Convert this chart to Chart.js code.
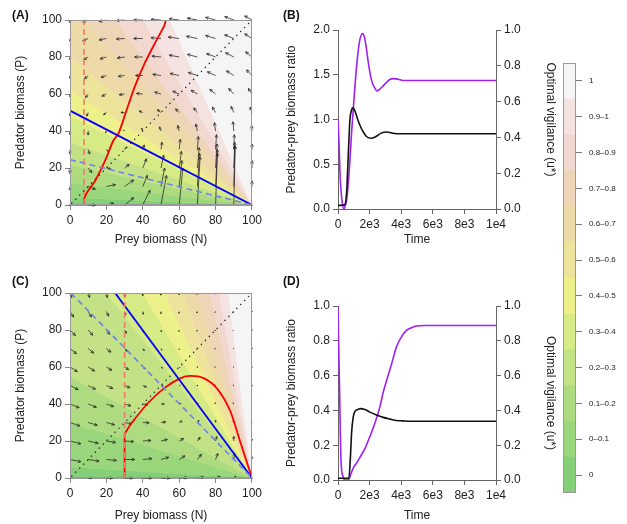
<!DOCTYPE html>
<html>
<head>
<meta charset="utf-8">
<script src="https://cdn.jsdelivr.net/npm/chart.js@4.4.0/dist/chart.umd.min.js"></script>
<style>
  body { margin: 0; background: #fff; width: 627px; height: 524px; position: relative; overflow: hidden;
         font-family: "Liberation Sans", Arial, sans-serif; }
  canvas { position: absolute; }
  .lab { position: absolute; font-weight: bold; font-size: 12px; line-height: 14px; color: #111; }
</style>
</head>
<body>
<canvas id="cA" width="265" height="260" style="left:0;top:0"></canvas>
<canvas id="cB" width="290" height="260" style="left:270px;top:0"></canvas>
<canvas id="cC" width="265" height="262" style="left:0;top:262px"></canvas>
<canvas id="cD" width="290" height="262" style="left:270px;top:262px"></canvas>
<canvas id="cBar" width="87" height="460" style="left:540px;top:50px"></canvas>
<div class="lab" style="left:12px;top:8px">(A)</div>
<div class="lab" style="left:283px;top:8px">(B)</div>
<div class="lab" style="left:12px;top:274px">(C)</div>
<div class="lab" style="left:283px;top:274px">(D)</div>
<script>
// ---- colour key ----
const cbColors = ['#84cf77', '#9ad67c', '#aedb80', '#c2e285', '#d6ea86', '#eef08a',
                  '#eee39a', '#eedaa8', '#eed5b8', '#f2d8d0', '#f5e3e1', '#f5f5f5'];
const cbLabels = ['0', '0–0.1', '0.1–0.2', '0.2–0.3', '0.3–0.4', '0.4–0.5',
                  '0.5–0.6', '0.6–0.7', '0.7–0.8', '0.8–0.9', '0.9–1', '1'];

// ---- phase planes: band boundaries (where each contour meets the left/top edge) ----
const edgesA = [[0, 4], [0, 12], [0, 22], [0, 34], [0, 48], [0, 62], [0, 80], [8, 100], [25, 100], [40, 100], [55, 100]];
const edgesC = [[0, 6], [0, 30], [0, 55], [20, 100], [40, 100], [52, 100], [62, 100], [70, 100], [77, 100], [82, 100], [87, 100]];

const gridN = [0, 10, 20, 30, 40, 50, 60, 70, 80, 90, 100];
const gridP = [0, 10, 20, 30, 40, 50, 60, 70, 80, 90, 100];

// arrow vectors [dN, dP], one row per gridP value (bottom row first)
const arrowsA = [
  [[0,0],[4,0],[4,1],[5,4],[4,8],[3,16],[2,20],[1.5,26],[1,28],[0.8,32],[0,0]],
  [[0,-2],[4,-1.5],[5,1],[5,3.5],[2.5,6],[2,10],[1.5,14],[1.2,18],[1,20],[0.6,22],[0,3]],
  [[0,-3],[2,-2.5],[2.5,-0.5],[2.5,2],[2,5],[1.5,7],[1.2,9],[1,11],[0.8,13],[0.5,14],[0,4]],
  [[0,-2.5],[0.8,-2.5],[1,-1],[0.8,1],[0.8,2.5],[0.6,4],[0.6,5.5],[0.5,7],[0.5,8],[0.3,8],[0,3]],
  [[0,-2],[0,-2.2],[-0.5,-1],[-0.5,0.5],[-0.6,1.5],[-0.8,2.2],[-0.8,3],[-0.8,3.8],[-0.6,4.5],[-0.4,5],[-0.2,3]],
  [[0,-1.8],[-0.8,-2],[-1.5,-1.2],[-2,0],[-2,0.8],[-2,1.5],[-2,2],[-2,2.5],[-1.8,3],[-1.5,3.3],[-1,3]],
  [[0,-1.5],[-1.5,-2],[-2.5,-1.2],[-3,-0.4],[-3.5,0.3],[-3.5,1],[-3.5,1.5],[-3.5,2],[-3.2,2.5],[-2.8,3],[-2,3]],
  [[0,-1.5],[-2,-1.8],[-3,-1],[-3.5,-0.5],[-4,0],[-4.5,0.6],[-5,1.1],[-5,1.6],[-4.5,2],[-4,2.5],[-3,3]],
  [[0,-1.5],[-2.5,-1.5],[-3.5,-1],[-4,-0.5],[-4.5,0],[-5,0.5],[-5.5,1],[-5.5,1.4],[-5,1.8],[-4.5,2.3],[-3.5,2.8]],
  [[0,-1.5],[-3,-1.2],[-4,-0.8],[-4.5,-0.3],[-5,0],[-5.5,0.4],[-6,0.8],[-6,1.2],[-5.5,1.6],[-5,2],[-4,2.5]],
  [[0,-1.5],[-3,-1],[-4,-0.8],[-4.5,-0.3],[-5,0],[-5.5,0.3],[-5.5,0.7],[-5.5,1],[-5.5,1.4],[-5,1.8],[-4,2.2]]
];
const arrowsC = [
  [[0.5,0],[2,0],[3.5,0],[4.5,0],[5,0],[5,0],[4.5,0.2],[3.5,0.5],[2.5,0.8],[1.2,1],[0,0]],
  [[6,-1.2],[6,-0.9],[5.5,-0.5],[5.5,0],[5,0.5],[4.2,1.2],[3.2,2],[2.2,2.8],[1.2,3.3],[0.5,3.5],[0,1.5]],
  [[6,-1.5],[5.5,-1.2],[5,-0.8],[5,-0.3],[4.5,0.3],[3.5,0.8],[2.5,1.4],[1.5,2],[0.6,2.4],[0,2.5],[0,1]],
  [[5.5,-1.8],[5,-1.5],[4.5,-1.2],[4,-0.7],[3.5,-0.2],[2.6,0.3],[1.6,0.8],[0.8,1.2],[0,1.3],[-0.3,1.2],[-0.2,0.5]],
  [[5,-2],[4.5,-1.8],[4,-1.4],[3.5,-1],[2.8,-0.5],[1.8,0],[1,0.4],[0.3,0.6],[-0.3,0.7],[-0.4,0.6],[-0.2,0.3]],
  [[4.5,-2.2],[4,-2],[3.5,-1.6],[3,-1.2],[2,-0.8],[1.2,-0.4],[0.5,0],[0,0.2],[-0.4,0.3],[-0.4,0.3],[-0.2,0.2]],
  [[4,-2.5],[3.5,-2.2],[3,-1.8],[2.2,-1.4],[1.4,-1],[0.8,-0.6],[0.3,-0.3],[-0.3,-0.1],[-0.5,0],[-0.4,0.1],[-0.2,0.1]],
  [[3.5,-2.8],[3,-2.5],[2.5,-2],[1.5,-1.6],[0.8,-1.2],[0.4,-0.9],[0,-0.6],[-0.4,-0.4],[-0.5,-0.2],[-0.4,-0.1],[-0.2,0]],
  [[3,-3],[2.5,-2.8],[1.8,-2.3],[1,-1.8],[0.5,-1.4],[0.2,-1],[-0.2,-0.8],[-0.4,-0.6],[-0.4,-0.4],[-0.3,-0.3],[-0.2,-0.2]],
  [[2,-3],[1.8,-3],[1.2,-2.5],[0.5,-2],[0.3,-1.5],[0,-1.2],[-0.2,-1],[-0.3,-0.8],[-0.4,-0.5],[-0.3,-0.4],[-0.2,-0.2]],
  [[1,-2.5],[0.8,-2.5],[0.5,-2.5],[0.2,-2],[0,-1.5],[0,-1.2],[0,-1],[-0.2,-0.8],[-0.3,-0.6],[-0.3,-0.5],[-0.2,-0.3]]
];

// isoclines in (A)
const redA_N = [7.7, 9.5, 14, 19.4, 23.9, 26.6, 31, 35.6, 41, 46.4, 51.8, 52.7];
const redA_P = [3.4, 7, 13.4, 24.2, 35, 38.6, 51, 64, 76.5, 87, 97, 100];
const redStemA_N = [7.7, 7.7], redStemA_P = [0, 3.4];
const redDashA_N = [7.7, 7.7], redDashA_P = [0, 100];
const blueA_N = [0, 100], blueA_P = [51, 0];
const blueDashA_N = [0, 100], blueDashA_P = [24.5, 0];

// isoclines in (C)
const redC_N = [30, 33.8, 42.8, 51.8, 60.8, 66.2, 73.4, 80.6, 87.8, 93.2, 100];
const redC_P = [23.8, 29.6, 40.4, 48.6, 54, 55.2, 54, 48.6, 36.8, 20.6, 0];
const redStemC_N = [30, 30], redStemC_P = [0, 23.8];
const redDashC_N = [30, 30], redDashC_P = [0, 100];
const blueC_N = [24.8, 100], blueC_P = [100, 0];
const blueDashC_N = [0.5, 100], blueDashC_P = [100, 0];

const diagN = [1, 100], diagP = [1, 100];

// ---- time series ----
const timeTicks = [0, 2000, 4000, 6000, 8000, 10000];
const timeLabels = ['0', '2e3', '4e3', '6e3', '8e3', '1e4'];

const tB_ratio = [0, 200, 440, 550, 650, 756, 850, 924, 1000, 1100, 1250, 1400, 1600, 1800, 2120, 2400, 2700, 3070, 3400, 3800, 4500, 6000, 10000];
const ratioB = [0.04, 0.04, 0.05, 0.2, 0.6, 1.0, 1.1, 1.13, 1.12, 1.08, 1.0, 0.93, 0.86, 0.81, 0.79, 0.81, 0.845, 0.86, 0.85, 0.84, 0.84, 0.84, 0.84];
const tB_u = [0, 60, 126, 250, 378, 460, 546, 700, 860, 1000, 1176, 1350, 1555, 1700, 1807, 1950, 2120, 2300, 2480, 2650, 2857, 3100, 3300, 3530, 3800, 4118, 4600, 6000, 10000];
const uB = [0.5, 0.38, 0.2, 0.05, 0.0, 0.02, 0.05, 0.2, 0.425, 0.6, 0.795, 0.93, 0.98, 0.95, 0.89, 0.8, 0.72, 0.68, 0.66, 0.67, 0.6875, 0.71, 0.725, 0.7285, 0.725, 0.7175, 0.7175, 0.7175, 0.7175];

const tD_ratio = [0, 300, 690, 780, 860, 960, 1070, 1250, 1390, 1700, 2020, 2400, 2860, 3300, 3700, 4100, 4540, 6000, 10000];
const ratioD = [0.01, 0.01, 0.01, 0.12, 0.27, 0.36, 0.395, 0.405, 0.41, 0.405, 0.39, 0.375, 0.36, 0.35, 0.342, 0.34, 0.338, 0.338, 0.338];
const tD_u = [0, 60, 120, 190, 336, 440, 650, 800, 970, 1200, 1390, 1700, 2020, 2350, 2650, 2850, 3070, 3400, 3700, 4000, 4330, 4650, 4960, 5500, 6000, 10000];
const uD = [1.0, 0.7, 0.42, 0.11, 0.015, 0.0, 0.0, 0.03, 0.07, 0.1, 0.13, 0.18, 0.25, 0.33, 0.42, 0.5, 0.57, 0.67, 0.765, 0.82, 0.86, 0.875, 0.885, 0.888, 0.888, 0.888];

// ---------------------------------------------------------------
Chart.defaults.font.family = "'Liberation Sans', Arial, sans-serif";
Chart.defaults.color = '#222';

const zip = (xs, ys) => xs.map((x, i) => ({ x: x, y: ys[i] }));

const sOf = p => (p[0] === 0 && p[1] < 100) ? p[1] : 100 + p[0];
const edgePt = s => s <= 100 ? [0, s] : [s - 100, 100];

function drawArrow(ctx, x0, y0, x1, y1) {
  const dx = x1 - x0, dy = y1 - y0, L = Math.hypot(dx, dy);
  if (L < 0.6) {
    ctx.fillRect(x0 - 0.6, y0 - 0.6, 1.2, 1.2);
    return;
  }
  ctx.beginPath(); ctx.moveTo(x0, y0); ctx.lineTo(x1, y1); ctx.stroke();
  const a = Math.atan2(dy, dx), h = Math.min(3.2, L * 0.6);
  ctx.beginPath();
  ctx.moveTo(x1 - h * Math.cos(a - 0.45), y1 - h * Math.sin(a - 0.45));
  ctx.lineTo(x1, y1);
  ctx.lineTo(x1 - h * Math.cos(a + 0.45), y1 - h * Math.sin(a + 0.45));
  ctx.stroke();
}

function phaseBg(edges, arrows) {
  return {
    id: 'phaseBg',
    beforeDatasetsDraw(chart) {
      const { ctx, chartArea: a, scales: { x, y } } = chart;
      ctx.save();
      ctx.beginPath(); ctx.rect(a.left, a.top, a.width, a.height); ctx.clip();
      const n = edges.length;
      for (let i = 0; i <= n; i++) {
        const s0 = i === 0 ? 0 : sOf(edges[i - 1]);
        const s1 = i === n ? 200 : sOf(edges[i]);
        const pts = [[100, 0], edgePt(s0)];
        if (s0 < 100 && s1 > 100) pts.push([0, 100]);
        pts.push(edgePt(s1));
        ctx.beginPath();
        pts.forEach((p, k) => {
          const px = x.getPixelForValue(p[0]), py = y.getPixelForValue(p[1]);
          if (k) ctx.lineTo(px, py); else ctx.moveTo(px, py);
        });
        ctx.closePath();
        ctx.fillStyle = cbColors[i];
        ctx.strokeStyle = cbColors[i];
        ctx.lineWidth = 0.6;
        ctx.fill(); ctx.stroke();
      }
      ctx.restore();
      ctx.save();
      ctx.strokeStyle = '#222'; ctx.fillStyle = '#222'; ctx.lineWidth = 0.75;
      gridP.forEach((P, r) => {
        gridN.forEach((N, c) => {
          const v = arrows[r][c];
          drawArrow(ctx, x.getPixelForValue(N), y.getPixelForValue(P),
                    x.getPixelForValue(N + v[0]), y.getPixelForValue(P + v[1]));
        });
      });
      ctx.restore();
    }
  };
}

const boxPlugin = {
  id: 'box',
  afterDatasetsDraw(chart) {
    const { ctx, chartArea: a } = chart;
    ctx.save();
    ctx.strokeStyle = '#9a9a9a'; ctx.lineWidth = 1;
    ctx.strokeRect(a.left + 0.5, a.top + 0.5, a.width - 1, a.height - 1);
    ctx.restore();
  }
};

function line(xs, ys, color, width, dash, tension, cap) {
  return {
    data: zip(xs, ys), showLine: true, borderColor: color, borderWidth: width,
    borderDash: dash || [], pointRadius: 0, tension: tension || 0,
    borderCapStyle: cap || 'butt', fill: false
  };
}

function phaseChart(id, padTop, xH, xTitlePad, edges, arrows, datasets) {
  return new Chart(document.getElementById(id), {
    type: 'scatter',
    data: { datasets: datasets },
    options: {
      responsive: false, animation: false,
      layout: { padding: { top: padTop, right: 9, left: 0, bottom: 0 } },
      plugins: { legend: { display: false }, tooltip: { enabled: false } },
      scales: {
        x: {
          type: 'linear', min: 0, max: 100,
          ticks: { stepSize: 20, font: { size: 12 }, color: '#222', padding: 3, maxRotation: 0 },
          grid: { drawOnChartArea: false, tickLength: 5, color: '#888' },
          border: { color: '#9a9a9a' },
          title: { display: true, text: 'Prey biomass (N)', font: { size: 12 }, color: '#222', padding: { top: 0, bottom: xTitlePad } },
          afterFit: s => { s.height = xH; }
        },
        y: {
          type: 'linear', min: 0, max: 100,
          ticks: { stepSize: 20, font: { size: 12 }, color: '#222', padding: 3 },
          grid: { drawOnChartArea: false, tickLength: 5, color: '#888' },
          border: { color: '#9a9a9a' },
          title: { display: true, text: 'Predator biomass (P)', font: { size: 12 }, color: '#222', padding: { top: 13, bottom: 0 } },
          afterFit: s => { s.width = 70; }
        }
      }
    },
    plugins: [phaseBg(edges, arrows), boxPlugin]
  });
}

phaseChart('cA', 20, 55, 13, edgesA, arrowsA, [
  line(diagN, diagP, '#333', 1.5, [0.1, 5.5], 0, 'round'),
  line(redDashA_N, redDashA_P, '#f47a6a', 1.6, [6, 4]),
  line(blueDashA_N, blueDashA_P, '#6f83e6', 1.6, [6, 4]),
  line(blueA_N, blueA_P, '#0000ff', 1.8),
  line(redStemA_N, redStemA_P, '#ff0000', 1.8),
  line(redA_N, redA_P, '#ff0000', 1.8, null, 0.3)
]);

phaseChart('cC', 31, 46, 1, edgesC, arrowsC, [
  line(diagN, diagP, '#333', 1.5, [0.1, 5.5], 0, 'round'),
  line(redDashC_N, redDashC_P, '#f47a6a', 1.6, [6, 4]),
  line(blueDashC_N, blueDashC_P, '#6f83e6', 1.6, [6, 4]),
  line(blueC_N, blueC_P, '#0000ff', 1.8),
  line(redStemC_N, redStemC_P, '#ff0000', 1.8),
  line(redC_N, redC_P, '#ff0000', 1.8, null, 0.3)
]);

function timeChart(id, padTop, xH, xTitlePad, yMax, yStep, tR, ratio, tU, u) {
  return new Chart(document.getElementById(id), {
    type: 'line',
    data: {
      datasets: [
        { data: zip(tR, ratio), yAxisID: 'y', borderColor: '#111', borderWidth: 1.6, pointRadius: 0, cubicInterpolationMode: 'monotone' },
        { data: zip(tU, u), yAxisID: 'y2', borderColor: '#a020f0', borderWidth: 1.6, pointRadius: 0, cubicInterpolationMode: 'monotone' }
      ]
    },
    options: {
      responsive: false, animation: false,
      layout: { padding: { top: padTop, right: 0, left: 0, bottom: 0 } },
      plugins: { legend: { display: false }, tooltip: { enabled: false } },
      scales: {
        x: {
          type: 'linear', min: 0, max: 10000,
          afterBuildTicks: s => { s.ticks = timeTicks.map(v => ({ value: v })); },
          ticks: { callback: (v, i) => timeLabels[i], font: { size: 12 }, color: '#222', padding: 3, maxRotation: 0, autoSkip: false },
          grid: { drawOnChartArea: false, tickLength: 5, color: '#666' },
          border: { color: '#666' },
          title: { display: true, text: 'Time', font: { size: 12 }, color: '#222', padding: { top: 0, bottom: xTitlePad } },
          afterFit: s => { s.height = xH; }
        },
        y: {
          type: 'linear', position: 'left', min: 0, max: yMax,
          ticks: { stepSize: yStep, callback: v => v.toFixed(1), font: { size: 12 }, color: '#222', padding: 3 },
          grid: { drawOnChartArea: false, tickLength: 5, color: '#666' },
          border: { color: '#666' },
          title: { display: true, text: 'Predator-prey biomass ratio', font: { size: 12 }, color: '#222', padding: { top: 14, bottom: 0 } },
          afterFit: s => { s.width = 68; }
        },
        y2: {
          type: 'linear', position: 'right', min: 0, max: 1,
          ticks: { stepSize: 0.2, callback: v => v.toFixed(1), font: { size: 12 }, color: '#222', padding: 3 },
          grid: { drawOnChartArea: false, tickLength: 5, color: '#666' },
          border: { color: '#666' },
          title: { display: true, text: 'Optimal vigilance (u*)', font: { size: 12 }, color: '#222', padding: { top: 2, bottom: 0 } },
          afterFit: s => { s.width = 64; }
        }
      }
    }
  });
}

timeChart('cB', 30, 51, 13, 2, 0.5, tB_ratio, ratioB, tB_u, uB);
timeChart('cD', 44, 44, 1, 1, 0.2, tD_ratio, ratioD, tD_u, uD);

// ---- colour bar ----
new Chart(document.getElementById('cBar'), {
  type: 'bar',
  data: {
    labels: [''],
    datasets: cbColors.map((c, i) => ({
      label: cbLabels[i], data: [1], backgroundColor: c, borderWidth: 0,
      barPercentage: 1, categoryPercentage: 1
    }))
  },
  options: {
    responsive: false, animation: false,
    layout: { padding: { left: 23, top: 13, bottom: 17, right: 0 } },
    plugins: { legend: { display: false }, tooltip: { enabled: false } },
    scales: {
      x: { display: false, stacked: true },
      y: {
        stacked: true, position: 'right', min: 0, max: 12,
        afterBuildTicks: s => { s.ticks = cbLabels.map((_, i) => ({ value: i + 0.5 })); },
        ticks: { callback: (v, i) => cbLabels[i], font: { size: 8 }, color: '#222', padding: 7, autoSkip: false },
        grid: { drawOnChartArea: false, tickLength: 6, color: '#777' },
        border: { display: false },
        afterFit: s => { s.width = 51; }
      }
    }
  },
  plugins: [boxPlugin]
});
</script>
</body>
</html>
